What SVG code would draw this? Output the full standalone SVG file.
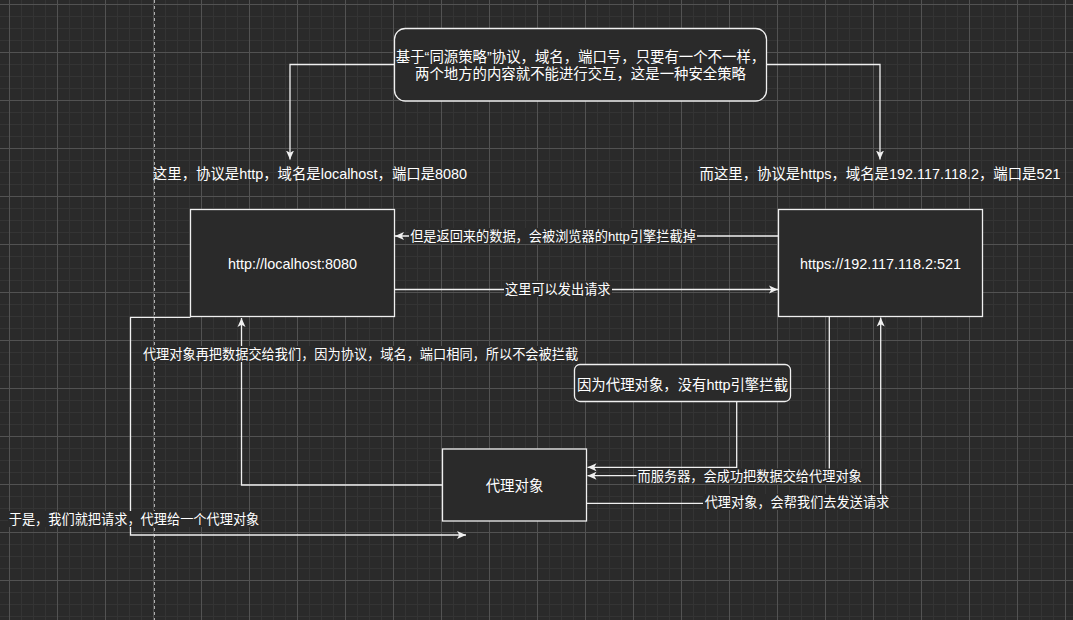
<svg xmlns="http://www.w3.org/2000/svg" width="1073" height="620" viewBox="0 0 1073 620">
<defs>
<style>
text{font-family:"Liberation Sans","Noto Sans CJK SC",sans-serif;fill:#ffffff;text-anchor:middle}
.n{font-size:14.4px}
.e{font-size:13.2px}
.box{fill:#2a2a2a;stroke:#f0f0f0;stroke-width:1.3}
.c{fill:none;stroke:#f0f0f0;stroke-width:1.3;marker-end:url(#arr)}
.lb{fill:#2a2a2a}
</style>
<pattern id="gmin" width="12" height="12" patternUnits="userSpaceOnUse" x="9" y="4"><path d="M0,0.5H12M0.5,0V12" stroke="#343434" stroke-width="1" fill="none"/></pattern>
<pattern id="gmaj" width="48" height="48" patternUnits="userSpaceOnUse" x="9" y="4"><path d="M0,0.5H48M0.5,0V48" stroke="#525252" stroke-width="1" fill="none"/></pattern>
<marker id="arr" markerUnits="userSpaceOnUse" viewBox="0 0 10 10" markerWidth="10" markerHeight="10" refX="9" refY="5" orient="auto"><path d="M0,1 L9,5 L0,9 L2.25,5 Z" fill="#f0f0f0"/></marker>
</defs>
<rect width="1073" height="620" fill="#2a2a2a"/>
<rect width="1073" height="620" fill="url(#gmin)"/>
<rect width="1073" height="620" fill="url(#gmaj)"/>
<line x1="154.5" y1="0" x2="154.5" y2="620" stroke="#b0b0b0" stroke-width="1" stroke-dasharray="3 3"/>

<g id="connectors">
<path class="c" d="M394.5,64.5 H290 V159.5"/>
<path class="c" d="M766.5,64.5 H880 V159.5"/>
<path class="c" d="M778.5,236 H395"/>
<path class="c" d="M394.5,289.5 H778"/>
<path class="c" d="M190.5,317.3 H130.5 V535 H466"/>
<path class="c" d="M442.5,485 H241.5 V318"/>
<path class="c" d="M736.7,401.3 V467.3 H587.5"/>
<path class="c" d="M829.3,316.5 V475.7 H587.5"/>
<path class="c" d="M586.5,503.3 H880.7 V317.5"/>
<g id="edge-labels">
<rect class="lb" x="409" y="228" width="288" height="16"/>
<text class="e" x="553" y="240.7">但是返回来的数据，会被浏览器的http引擎拦截掉</text>
<rect class="lb" x="504" y="281" width="108" height="16"/>
<text class="e" x="557.8" y="294.3">这里可以发出请求</text>
<rect class="lb" x="141.5" y="346" width="438" height="16"/>
<text class="e" x="360.5" y="359">代理对象再把数据交给我们，因为协议，域名，端口相同，所以不会被拦截</text>
<rect class="lb" x="8" y="511" width="253" height="16"/>
<text class="e" x="134" y="524">于是，我们就把请求，代理给一个代理对象</text>
<rect class="lb" x="636.5" y="468.5" width="226" height="15.5"/>
<text class="e" x="749.7" y="481">而服务器，会成功把数据交给代理对象</text>
<rect class="lb" x="703" y="494" width="187.5" height="16"/>
<text class="e" x="797" y="506.8">代理对象，会帮我们去发送请求</text>
</g>
</g>

<g id="note-policy">
<rect class="box" x="394.5" y="28.5" width="372" height="72.5" rx="10.8" ry="10.8"/>
<text class="n" x="580.5" y="62">基于“同源策略”协议，域名，端口号，只要有一个不一样，</text>
<text class="n" x="580.5" y="79.3">两个地方的内容就不能进行交互，这是一种安全策略</text>
</g>
<g id="label-local">
<text class="n" x="310" y="178.8">这里，协议是http，域名是localhost，端口是8080</text>
</g>
<g id="label-remote">
<text class="n" x="880" y="178.8">而这里，协议是https，域名是192.117.118.2，端口是521</text>
</g>
<g id="node-local">
<rect class="box" x="190.5" y="209.5" width="204" height="107"/>
<text class="n" x="292.5" y="268.5">http://localhost:8080</text>
</g>
<g id="node-remote">
<rect class="box" x="778.5" y="209.5" width="204" height="107"/>
<text class="n" x="880.5" y="268.5">https://192.117.118.2:521</text>
</g>
<g id="note-proxy">
<rect class="box" x="574.5" y="364.5" width="216" height="37" rx="5.5" ry="5.5"/>
<text class="n" x="682.5" y="390">因为代理对象，没有http引擎拦截</text>
</g>
<g id="node-proxy">
<rect class="box" x="442.5" y="449" width="144" height="72"/>
<text class="n" x="514.5" y="490.5">代理对象</text>
</g>
</svg>
